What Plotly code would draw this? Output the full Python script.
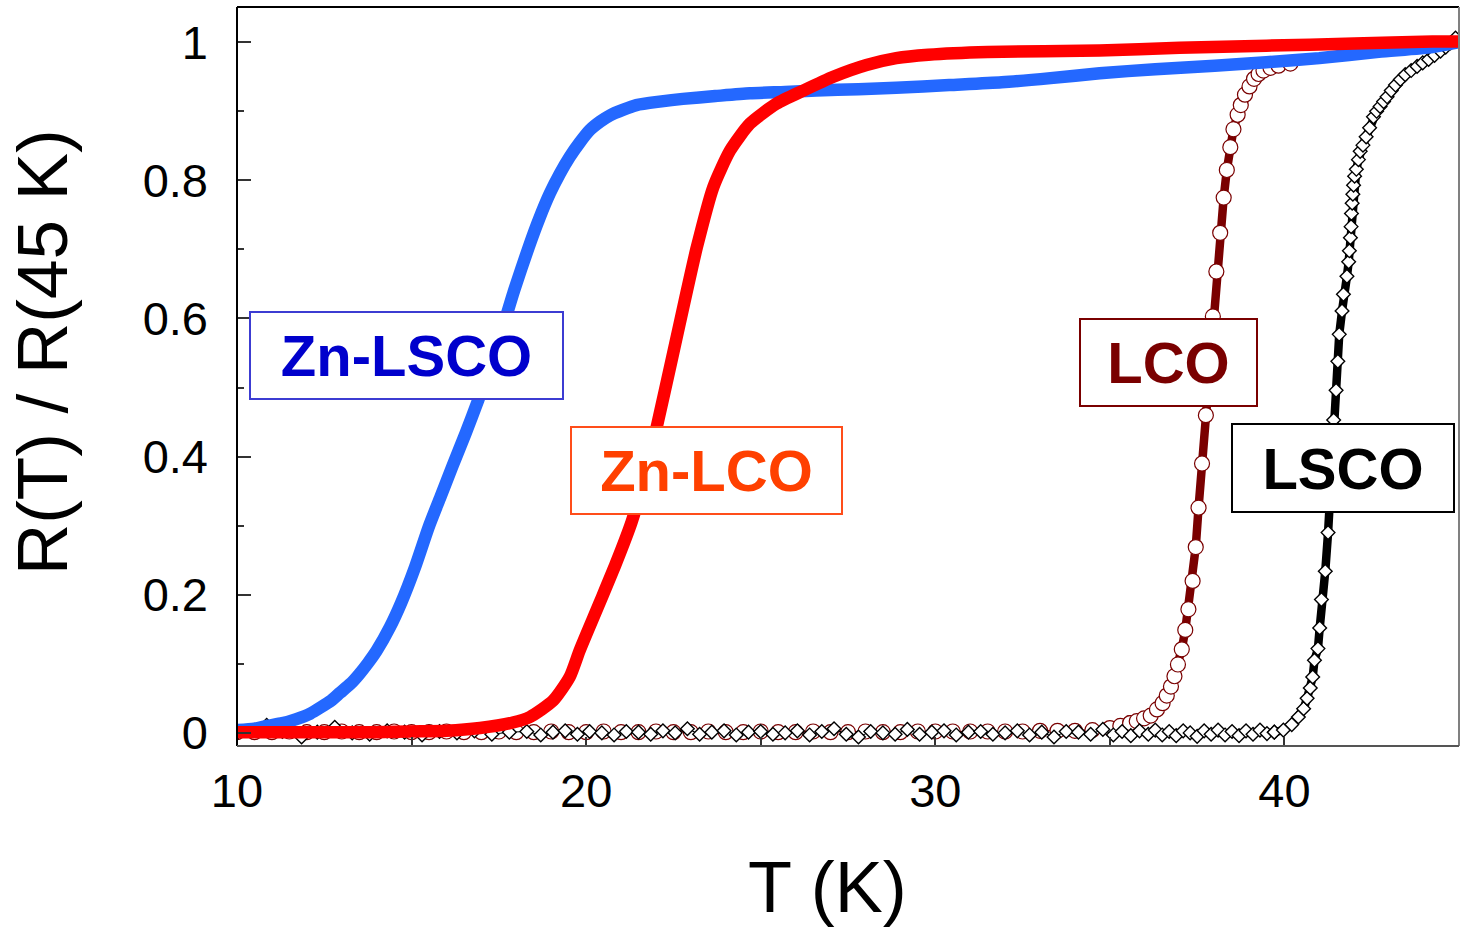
import plotly.graph_objects as go

# ---------------- data ----------------
# Zn-LSCO (blue band)
zn_lsco_T = [10.0, 10.5, 10.85, 11.3, 11.7, 12.1, 12.4, 12.7, 12.95, 13.25, 13.5, 13.75, 14.0,
             14.38, 14.7, 15.1, 15.49, 15.83, 16.17, 16.55, 16.91, 17.45, 17.94, 18.36, 18.66,
             18.96, 19.25, 19.53, 19.82, 20.11, 20.4, 20.68, 21.05, 21.44, 22.1, 22.77, 23.7,
             24.69, 25.7, 26.59, 27.8, 28.88, 30.4, 31.9, 33.3, 34.71, 36.3, 38.0, 39.48, 41.0,
             42.7, 44.24, 45.0]
zn_lsco_R = [0.004, 0.006, 0.010, 0.014, 0.020, 0.028, 0.037, 0.047, 0.058, 0.071, 0.085, 0.101, 0.119,
             0.153, 0.188, 0.240, 0.298, 0.342, 0.386, 0.434, 0.482, 0.560, 0.641, 0.704, 0.745,
             0.781, 0.810, 0.834, 0.855, 0.873, 0.885, 0.894, 0.902, 0.909, 0.914, 0.918, 0.922,
             0.926, 0.928, 0.930, 0.932, 0.934, 0.938, 0.942, 0.948, 0.955, 0.961, 0.966, 0.971, 0.977,
             0.986, 0.993, 1.000]

# Zn-LCO (red band)
zn_lco_T = [10.0, 11.0, 12.0, 13.0, 14.0, 15.0, 16.0, 16.96, 17.9, 18.39, 19.06, 19.53, 19.82,
            20.4, 20.85, 21.3, 21.7, 22.04, 22.45, 22.89, 23.17, 23.64, 24.12, 24.69, 25.45,
            26.22, 27.08, 28.03, 28.88, 29.8, 31.5, 34.7, 37.0, 39.48, 42.0, 44.24, 45.0]
zn_lco_R = [0.001, 0.001, 0.001, 0.001, 0.001, 0.002, 0.003, 0.007, 0.015, 0.023, 0.047, 0.081, 0.120,
            0.190, 0.245, 0.305, 0.375, 0.447, 0.540, 0.641, 0.703, 0.790, 0.843, 0.882, 0.911,
            0.930, 0.950, 0.967, 0.977, 0.982, 0.986, 0.988, 0.992, 0.995, 0.998, 1.001, 1.001]

# LCO (dark red, open circles)
lco_T = [10.0, 10.5, 11.0, 11.5, 12.0, 12.5, 13.0, 13.5, 14.0, 14.5, 15.0, 15.5, 16.0, 16.5,
         17.0, 17.5, 18.0, 18.5, 19.0, 19.5, 20.0, 20.5, 21.0, 21.5, 22.0, 22.5, 23.0, 23.5,
         24.0, 24.5, 25.0, 25.5, 26.0, 26.5, 27.0, 27.5, 28.0, 28.5, 29.0, 29.5, 30.0, 30.5,
         31.0, 31.5, 32.0, 32.5, 33.0, 33.5, 34.0, 34.5, 35.0, 35.3,
         35.58, 35.77, 35.98, 36.17, 36.35, 36.51, 36.63, 36.75, 36.85, 36.95, 37.06, 37.16,
         37.25, 37.37, 37.46, 37.54, 37.64, 37.75, 37.85, 37.95, 38.05, 38.16, 38.26, 38.35,
         38.45, 38.54, 38.66, 38.75, 38.87, 39.0, 39.13, 39.26, 39.4, 39.6, 39.83, 40.17,
         40.6, 41.2, 41.8, 42.5, 43.2, 44.0, 44.6, 45.0]
lco_R = [0.001, 0.001, 0.001, 0.002, 0.001, 0.001, 0.002, 0.001, 0.001, 0.002, 0.001, 0.001, 0.002, 0.001,
         0.001, 0.002, 0.001, 0.001, 0.002, 0.001, 0.001, 0.002, 0.001, 0.001, 0.002, 0.001, 0.001, 0.002,
         0.001, 0.001, 0.002, 0.001, 0.001, 0.002, 0.001, 0.001, 0.002, 0.001, 0.001, 0.002, 0.002, 0.002,
         0.002, 0.002, 0.002, 0.002, 0.003, 0.003, 0.003, 0.004, 0.007, 0.010,
         0.014, 0.017, 0.021, 0.025, 0.034, 0.043, 0.054, 0.067, 0.082, 0.099, 0.121, 0.149,
         0.179, 0.220, 0.269, 0.326, 0.390, 0.460, 0.530, 0.603, 0.668, 0.724, 0.775, 0.815,
         0.848, 0.874, 0.895, 0.909, 0.924, 0.936, 0.947, 0.954, 0.959, 0.963, 0.966, 0.969,
         0.974, 0.978, 0.981, 0.985, 0.988, 0.992, 0.996, 1.000]

# LSCO (black, open diamonds)
lsco_T = [10.0, 10.4, 10.85, 11.3, 11.85, 12.3, 12.8, 13.3, 13.8, 14.3, 14.8, 15.3, 15.8, 16.3,
          16.8, 17.3, 17.8, 18.3, 18.7, 19.05, 19.4, 19.75, 20.1, 20.45, 20.8, 21.15, 21.5,
          21.85, 22.2, 22.55, 22.9, 23.25, 23.6, 23.95, 24.3, 24.65, 25.0, 25.35, 25.7, 26.05,
          26.4, 26.75, 27.1, 27.45, 27.8, 28.15, 28.5, 28.85, 29.2, 29.55, 29.9, 30.25, 30.6,
          30.95, 31.3, 31.65, 32.0, 32.35, 32.7, 33.05, 33.4, 33.75, 34.1, 34.45, 34.8, 35.1,
          35.35, 35.6, 35.85, 36.1, 36.3, 36.5, 36.7, 36.9, 37.1, 37.3, 37.5, 37.7, 37.9, 38.1,
          38.3, 38.5, 38.7, 38.9, 39.1, 39.3, 39.5,
          39.71, 39.97, 40.21, 40.4, 40.55, 40.65, 40.74, 40.81, 40.86, 40.96, 41.01, 41.06,
          41.17, 41.25, 41.31, 41.36, 41.41, 41.48, 41.53, 41.57, 41.65, 41.69, 41.79, 41.84,
          41.86, 41.89, 41.91, 41.92, 41.94, 41.96, 41.98, 42.01, 42.06, 42.12, 42.17, 42.25,
          42.34, 42.44, 42.55, 42.64, 42.74, 42.84, 42.94, 43.06, 43.18, 43.32, 43.46, 43.63,
          43.8, 43.96, 44.13, 44.3, 44.47, 44.62, 44.76, 44.9]
lsco_R = [0.000, 0.003, 0.011, 0.002, -0.006, 0.001, 0.008, 0.000, -0.002, 0.003, 0.001, -0.003, 0.002, 0.000,
          0.003, -0.002, 0.001, 0.002, -0.003, 0.001, 0.003, -0.002, 0.002, 0.000, -0.003, 0.002, 0.001,
          -0.002, 0.003, 0.000, 0.006, -0.002, 0.001, 0.003, -0.003, 0.001, 0.002, -0.002, 0.000, 0.003,
          -0.003, 0.002, 0.006, -0.002, -0.006, 0.002, 0.000, -0.002, 0.005, -0.002, 0.001, 0.003, -0.003,
          0.001, 0.002, -0.002, 0.000, 0.003, -0.003, 0.001, -0.006, 0.002, 0.001, -0.002, 0.005, -0.003,
          0.002, -0.004, 0.003, -0.002, 0.004, -0.003, 0.002, -0.004, 0.003, 0.000, -0.005, 0.003, -0.002,
          0.004, -0.003, 0.002, -0.004, 0.003, -0.002, 0.004, -0.001,
          0.001, 0.004, 0.012, 0.023, 0.035, 0.050, 0.065, 0.081, 0.105, 0.122, 0.152, 0.193,
          0.234, 0.290, 0.350, 0.400, 0.453, 0.496, 0.538, 0.577, 0.611, 0.635, 0.661, 0.682,
          0.698, 0.717, 0.733, 0.752, 0.767, 0.780, 0.793, 0.806, 0.816, 0.830, 0.842, 0.851,
          0.863, 0.876, 0.892, 0.900, 0.907, 0.914, 0.921, 0.930, 0.938, 0.946, 0.953, 0.959,
          0.965, 0.970, 0.975, 0.981, 0.987, 0.993, 0.999, 1.006]

x_ticks = [10, 20, 30, 40]
y_ticks = [0, 0.2, 0.4, 0.6, 0.8, 1.0]
y_tick_text = ["0", "0.2", "0.4", "0.6", "0.8", "1"]

labels = [
    # text, T, R, text colour, border colour
    ("Zn-LSCO", 14.86, 0.547, "#0000cc", "#3c3cd2"),
    ("Zn-LCO", 23.46, 0.380, "#ff4000", "#ff4d1a"),
    ("LCO", 36.69, 0.537, "#7a0000", "#7a0000"),
    ("LSCO", 41.69, 0.383, "#000000", "#000000"),
]
label_sizes = [(311, 85), (269, 85), (175, 85), (220, 86)]

FONT = "Liberation Sans, Arial, sans-serif"

# split points: flat (marker band) part / transition part / hidden tail
LCO_SPLIT = 52    # first point of the LCO transition (35.58 K)
LCO_TAIL = 87     # last visible LCO point (40.17 K); beyond it the curve runs under the bands
LSCO_SPLIT = 87   # first point of the LSCO transition (39.71 K)

fig = go.Figure()

circle = dict(symbol="circle", size=15, color="white", line=dict(color="#7a0000", width=1.2))
diamond = dict(symbol="diamond", size=10.5, color="white", line=dict(color="#000000", width=1.4))

fig.add_trace(go.Scatter(
    x=lco_T[LCO_TAIL:], y=lco_R[LCO_TAIL:], mode="lines", name="LCO",
    line=dict(color="#7a0000", width=6),
))
fig.add_trace(go.Scatter(
    x=lco_T[:LCO_SPLIT + 1], y=lco_R[:LCO_SPLIT + 1], mode="lines+markers", name="LCO",
    line=dict(color="#7a0000", width=1.5), marker=circle,
))
fig.add_trace(go.Scatter(
    x=lco_T[LCO_SPLIT:LCO_TAIL + 1], y=lco_R[LCO_SPLIT:LCO_TAIL + 1], mode="lines+markers", name="LCO",
    line=dict(color="#7a0000", width=8.5), marker=circle,
))
fig.add_trace(go.Scatter(
    x=lsco_T[:LSCO_SPLIT + 1], y=lsco_R[:LSCO_SPLIT + 1], mode="lines+markers", name="LSCO",
    line=dict(color="#000000", width=1), marker=diamond,
))
fig.add_trace(go.Scatter(
    x=lsco_T[LSCO_SPLIT:], y=lsco_R[LSCO_SPLIT:], mode="lines+markers", name="LSCO",
    line=dict(color="#000000", width=8.5), marker=diamond,
))
fig.add_trace(go.Scatter(
    x=zn_lsco_T, y=zn_lsco_R, mode="lines", name="Zn-LSCO",
    line=dict(color="#2468ff", width=12.5, shape="spline", smoothing=0.6),
))
fig.add_trace(go.Scatter(
    x=zn_lco_T, y=zn_lco_R, mode="lines", name="Zn-LCO",
    line=dict(color="#ff0000", width=12.5, shape="spline", smoothing=0.6),
))

for (txt, tx, ty, tc, bc), (w, h) in zip(labels, label_sizes):
    fig.add_annotation(
        x=tx, y=ty, xref="x", yref="y", text="<b>%s</b>" % txt, showarrow=False,
        font=dict(family=FONT, size=58, color=tc),
        bgcolor="white", bordercolor=bc, borderwidth=2, borderpad=0,
        width=w, height=h, xanchor="center", yanchor="middle", align="center", valign="middle",
    )

# axis titles
fig.add_annotation(x=-0.1596, y=0.533, xref="paper", yref="paper", text="R(T) / R(45 K)",
                   textangle=-90, showarrow=False, font=dict(family=FONT, size=71, color="black"),
                   xanchor="center", yanchor="middle")
fig.add_annotation(x=0.4836, y=-0.1914, xref="paper", yref="paper", text="T (K)",
                   showarrow=False, font=dict(family=FONT, size=72, color="black"),
                   xanchor="center", yanchor="middle")

# frame
fig.add_shape(type="line", xref="paper", yref="paper", x0=0, x1=1, y0=1, y1=1,
              line=dict(color="black", width=2))
fig.add_shape(type="line", xref="paper", yref="paper", x0=0, x1=0, y0=0, y1=1,
              line=dict(color="black", width=2))
fig.add_shape(type="line", xref="paper", yref="paper", x0=1, x1=1, y0=0, y1=1,
              line=dict(color="#808080", width=2))
fig.add_shape(type="line", xref="paper", yref="paper", x0=0, x1=1, y0=0, y1=0,
              line=dict(color="#555555", width=2))

fig.update_layout(
    width=1461, height=933,
    margin=dict(l=237, r=2, t=7, b=187),
    paper_bgcolor="white", plot_bgcolor="white",
    showlegend=False,
    font=dict(family=FONT),
    xaxis=dict(
        range=[10, 45], tickvals=x_ticks, ticks="inside", ticklen=9, tickwidth=1.5,
        tickcolor="#333333", showgrid=False, zeroline=False, showline=False,
        tickfont=dict(size=47, color="black", family=FONT), ticklabelstandoff=13,
        minor=dict(dtick=5, ticks="inside", ticklen=9, tickwidth=1.5, tickcolor="#333333", showgrid=False),
    ),
    yaxis=dict(
        range=[-0.019, 1.051], tickvals=y_ticks, ticktext=y_tick_text, ticks="inside",
        ticklen=14, tickwidth=1.5, tickcolor="#333333", showgrid=False, zeroline=False,
        showline=False, tickfont=dict(size=47, color="black", family=FONT), ticklabelstandoff=28,
        minor=dict(dtick=0.1, ticks="inside", ticklen=7, tickwidth=1.5, tickcolor="#333333", showgrid=False),
    ),
)

fig.write_html("out.html")
